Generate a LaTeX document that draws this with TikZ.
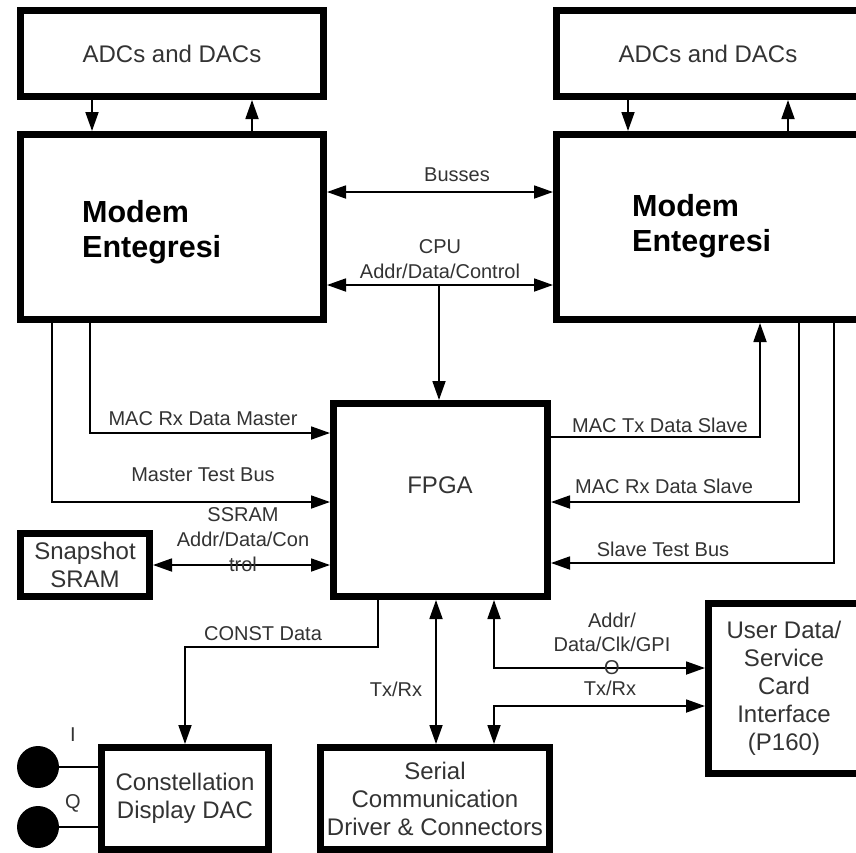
\documentclass[tikz,border=0pt]{standalone}
\usepackage{fontspec}
\setmainfont{Liberation Sans}
\usetikzlibrary{arrows.meta,positioning}

\newcommand{\blockfont}{\fontsize{24}{28}\selectfont}
\newcommand{\wirefont}{\fontsize{20}{25}\selectfont}
\newcommand{\modemfont}{\fontsize{30.5}{35}\selectfont\bfseries}

\tikzset{
  block/.style={draw, line width=7pt, inner sep=0pt, align=center,
    font=\blockfont, text=black!80},
  blocktext/.style={inner sep=0pt, align=center, font=\blockfont, text=black!80},
  modemtext/.style={inner sep=0pt, align=left, font=\modemfont},
  wire/.style={line width=1.8pt, >={Triangle[length=19pt,width=13pt]}},
  wirelabel/.style={inner sep=0pt, align=center, font=\wirefont, text=black!80},
  jack/.style={circle, fill=black, inner sep=0pt, minimum size=42pt},
}

\begin{document}
\begin{tikzpicture}[x=1pt,y=-1pt]
  \path[use as bounding box, fill=white] (0,0) rectangle (856,852);
  \clip (0,0) rectangle (856,852);

  % converters and the two modems
  \node[block, minimum width=303pt, minimum height=86pt] (adcL) at (172,53.5) {ADCs and DACs};
  \node[block, minimum width=303pt, minimum height=185pt, below=31pt of adcL] (modemL) {};
  \node[block, minimum width=303pt, minimum height=86pt] (adcR) at (708,53.5) {ADCs and DACs};
  \node[block, minimum width=303pt, minimum height=185pt, below=31pt of adcR] (modemR) {};
  \node[modemtext, anchor=west] (modemLname) at (82,232) {Modem\\Entegresi};
  \node[modemtext, anchor=west] (modemRname) at (632,226) {Modem\\Entegresi};

  % FPGA and the boards round it
  \node[block, minimum width=214pt, minimum height=193pt] (fpga) at (440.5,500) {};
  \node[blocktext] (fpganame) at (440,485) {FPGA};
  \node[block, minimum width=129pt, minimum height=63pt] (snap) at (85,565) {Snapshot\\SRAM};
  \node[block, minimum width=167pt, minimum height=102pt] (constel) at (185,798.5) {Constellation\\Display DAC};
  \node[block, minimum width=229pt, minimum height=102pt] (serial) at (435,798.5) {Serial\\Communication\\Driver \& Connectors};
  \node[block, minimum width=151pt, minimum height=170pt] (user) at (784,688.5) {User Data/\\Service\\Card\\Interface\\(P160)};

  % I/Q outputs
  \node[jack] (iout) at (38,767) {};
  \node[jack] (qout) at (38,827) {};
  \node[wirelabel] (ilabel) at (73,735) {I};
  \node[wirelabel] (qlabel) at (73,803) {Q};
  \draw[wire] (iout) -- (iout -| constel.west);
  \draw[wire] (qout) -- (qout -| constel.west);

  % ADC/DAC <-> modem
  \foreach \s in {L,R} {
    \draw[wire,->] ([xshift=75pt]adc\s.south west) -- ([xshift=75pt]modem\s.north west);
    \draw[wire,<-] ([xshift=235pt]adc\s.south west) -- ([xshift=235pt]modem\s.north west);
  }

  % bends of the buses
  \coordinate (bus) at (440,192);
  \coordinate (cpu) at (439,285);
  \coordinate (mrxm) at (90,433);
  \coordinate (mtb) at (52,502);
  \coordinate (mtxs) at (760,437);
  \coordinate (mrxs) at (799,502);
  \coordinate (stb) at (834,563);
  \coordinate (cst) at (378,647);
  \coordinate (txrx) at (436,680);
  \coordinate (gpio) at (494,668);
  \coordinate (sertx) at (494,706);

  \draw[wire,<->] (bus -| modemL.east) -- (bus -| modemR.west);
  \draw[wire,<->] (cpu -| modemL.east) -- (cpu -| modemR.west);
  \draw[wire,->] (cpu) -- (cpu |- fpga.north);
  \draw[wire,->] (modemL.south -| mrxm) |- (fpga.west |- mrxm);
  \draw[wire,->] (modemL.south -| mtb) |- (fpga.west |- mtb);
  \draw[wire,<->] (snap.east) -- (snap.east -| fpga.west);
  \draw[wire,->] (fpga.east |- mtxs) -| (modemR.south -| mtxs);
  \draw[wire,->] (modemR.south -| mrxs) |- (fpga.east |- mrxs);
  \draw[wire,->] (modemR.south -| stb) |- (fpga.east |- stb);
  \draw[wire,->] (fpga.south -| cst) -- (cst) -| (constel.north);
  \draw[wire,<->] (fpga.south -| txrx) -- (serial.north -| txrx);
  \draw[wire,<->] (fpga.south -| gpio) |- (user.west |- gpio);
  \draw[wire,<->] (serial.north -| sertx) |- (user.west |- sertx);

  % bus names
  \node[wirelabel] (bustxt) at (457,175) {Busses};
  \node[wirelabel] (cputxt) at (440,259.5) {CPU\\Addr/Data/Control};
  \node[wirelabel] (mrxmtxt) at (203,419) {MAC Rx Data Master};
  \node[wirelabel] (mtbtxt) at (203,475) {Master Test Bus};
  \node[wirelabel] (ssrtxt) at (243,540) {SSRAM\\Addr/Data/Con\\trol};
  \node[wirelabel] (mtxstxt) at (660,425) {MAC Tx Data Slave};
  \node[wirelabel] (mrxstxt) at (664,486) {MAC Rx Data Slave};
  \node[wirelabel] (stbtxt) at (663,549) {Slave Test Bus};
  \node[wirelabel] (csttxt) at (263,634) {CONST Data};
  \node[wirelabel] (txrxtxt) at (396,689) {Tx/Rx};
  \node[wirelabel, font=\fontsize{20}{23.5}\selectfont] (gpiotxt) at (612,644) {Addr/\\Data/Clk/GPI\\O};
  \node[wirelabel] (sertxtxt) at (610,688) {Tx/Rx};
\end{tikzpicture}
\end{document}
